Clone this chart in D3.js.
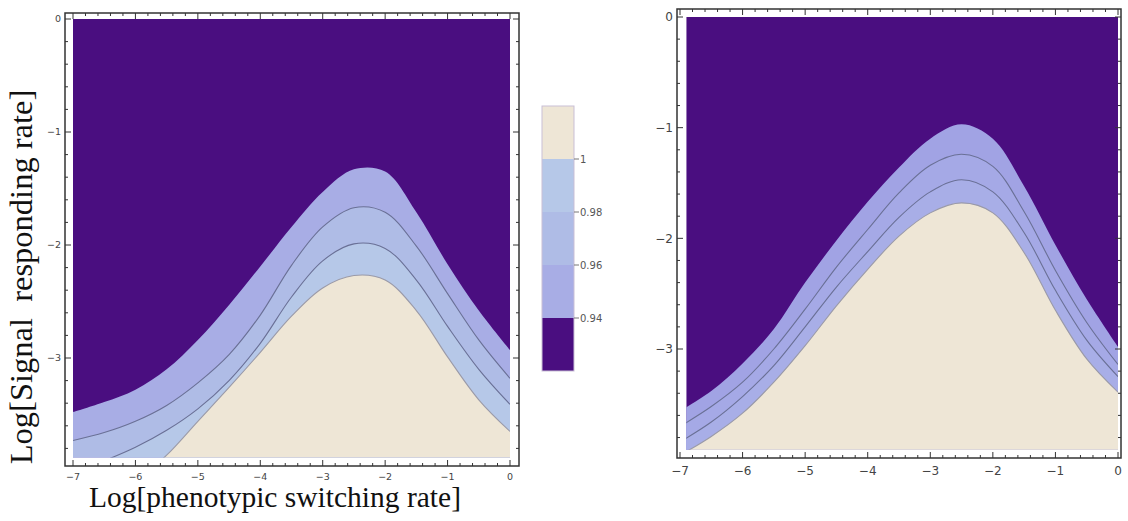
<!DOCTYPE html>
<html>
<head>
<meta charset="utf-8">
<script src="https://cdn.jsdelivr.net/npm/d3@7"></script>
<style>
  body { margin: 0; background: #fff; }
  svg { display: block; }
</style>
</head>
<body>
<svg id="chart" width="1128" height="521"></svg>
<script>
// x samples (Log[phenotypic switching rate]) shared by every contour
const xSamples = [-7, -6.5, -6, -5.5, -5, -4.5, -4, -3.5, -3, -2.5, -2, -1.5, -1, -0.5, 0];

// left panel: y position of the contour lines 0.94, 0.96, 0.98, 1
const left094 = [-3.48, -3.39, -3.28, -3.10, -2.84, -2.53, -2.19, -1.84, -1.53, -1.33, -1.35, -1.71, -2.17, -2.58, -2.93];
const left096 = [-3.73, -3.66, -3.56, -3.42, -3.22, -2.97, -2.62, -2.18, -1.84, -1.67, -1.71, -2.01, -2.43, -2.84, -3.18];
const left098 = [-4.02, -3.91, -3.79, -3.64, -3.45, -3.20, -2.87, -2.46, -2.14, -1.99, -2.03, -2.31, -2.72, -3.10, -3.41];
const left100 = [-4.60, -4.35, -4.10, -3.86, -3.56, -3.26, -2.95, -2.63, -2.38, -2.27, -2.31, -2.58, -2.99, -3.37, -3.65];

// right panel
const right094 = [-3.56, -3.38, -3.13, -2.82, -2.40, -2.02, -1.67, -1.36, -1.10, -0.97, -1.10, -1.53, -2.06, -2.55, -2.98];
const right096 = [-3.70, -3.52, -3.30, -3.00, -2.64, -2.26, -1.92, -1.59, -1.34, -1.24, -1.35, -1.76, -2.29, -2.76, -3.14];
const right098 = [-3.84, -3.66, -3.43, -3.15, -2.80, -2.44, -2.12, -1.81, -1.58, -1.47, -1.58, -1.95, -2.47, -2.92, -3.25];
const right100 = [-3.96, -3.79, -3.58, -3.30, -2.97, -2.61, -2.28, -1.98, -1.77, -1.68, -1.77, -2.13, -2.65, -3.09, -3.39];

const xTicks = [-7, -6, -5, -4, -3, -2, -1, 0];
const yTicks = [0, -1, -2, -3];
const legendTicks = [1, 0.98, 0.96, 0.94];
const legendLevels = [0.92, 0.94, 0.96, 0.98, 1, 1.02];

const dark = "#4a0e80", beige = "#eee6d6";

var svg = d3.select("#chart");

function drawPanel(p) {
  var x = d3.scaleLinear().domain([-7, 0]).range([p.x0, p.x1]);
  var y = d3.scaleLinear().domain([0, -3]).range([p.y0, p.y3]);

  var fx0 = x(p.xMin), fx1 = x(0), fy0 = y(0), fy1 = y(p.yMin);
  var g = svg.append("g");

  g.append("clipPath").attr("id", p.id)
    .append("rect").attr("x", fx0).attr("y", fy0).attr("width", fx1 - fx0).attr("height", fy1 - fy0);

  var plot = g.append("g").attr("clip-path", "url(#" + p.id + ")");
  plot.append("rect").attr("x", fx0).attr("y", fy0).attr("width", fx1 - fx0).attr("height", fy1 - fy0).attr("fill", dark);

  var curves = p.curves;
  curves.forEach(function(c, i) {
    var area = d3.area()
      .x(function(d, j) { return x(xSamples[j]); })
      .y0(fy1 + 40)
      .y1(function(d) { return y(d); })
      .curve(d3.curveCatmullRom);
    plot.append("path").datum(c).attr("d", area).attr("fill", p.fills[i]);
  });
  curves.forEach(function(c, i) {
    if (i == 0) return;
    var line = d3.line()
      .x(function(d, j) { return x(xSamples[j]); })
      .y(function(d) { return y(d); })
      .curve(d3.curveCatmullRom);
    plot.append("path").datum(c).attr("d", line).attr("fill", "none")
      .attr("stroke", i == 3 ? "#9a9aa8" : "#6a7096").attr("stroke-width", 1.1);
  });

  // frame
  var L = p.fl, R = p.fr, T = p.ft, B = p.fb;
  g.append("rect").attr("x", L).attr("y", T).attr("width", R - L).attr("height", B - T)
    .attr("fill", "none").attr("stroke", "#333").attr("stroke-width", 1.5);

  var minorX = d3.range(-7, 0.001, 0.2).filter(function(v) { return Math.abs(v - Math.round(v)) > 0.01; });
  var minorY = d3.range(0, -3.95, -0.2).filter(function(v) { return Math.abs(v - Math.round(v)) > 0.01; });

  var ticks = g.append("g").attr("stroke", "#333").attr("stroke-width", 1);
  [[B, -1], [T, 1]].forEach(function(e) {
    xTicks.forEach(function(v) {
      ticks.append("line").attr("x1", x(v)).attr("x2", x(v)).attr("y1", e[0]).attr("y2", e[0] + e[1] * 6);
    });
    minorX.forEach(function(v) {
      ticks.append("line").attr("x1", x(v)).attr("x2", x(v)).attr("y1", e[0]).attr("y2", e[0] + e[1] * 3);
    });
  });
  [[L, 1], [R, -1]].forEach(function(e) {
    yTicks.forEach(function(v) {
      ticks.append("line").attr("y1", y(v)).attr("y2", y(v)).attr("x1", e[0]).attr("x2", e[0] + e[1] * 6);
    });
    minorY.forEach(function(v) {
      ticks.append("line").attr("y1", y(v)).attr("y2", y(v)).attr("x1", e[0]).attr("x2", e[0] + e[1] * 3);
    });
  });

  var fmt = d3.format("d");
  g.append("g").selectAll("text").data(xTicks).enter().append("text")
    .attr("x", function(d) { return x(d); })
    .attr("y", B + p.labelGap)
    .attr("text-anchor", "middle")
    .attr("font-family", "DejaVu Sans")
    .attr("font-size", p.tickFont)
    .attr("fill", "#444")
    .text(fmt);
  g.append("g").selectAll("text").data(yTicks).enter().append("text")
    .attr("x", L - 4)
    .attr("y", function(d) { return y(d); })
    .attr("dy", "0.35em")
    .attr("text-anchor", "end")
    .attr("font-family", "DejaVu Sans")
    .attr("font-size", p.tickFont)
    .attr("fill", "#444")
    .text(fmt);
}

drawPanel({
  id: "clipL", x0: 73, x1: 510, y0: 19, y3: 358, xMin: -7, yMin: -3.88,
  fl: 65, fr: 519, ft: 13, fb: 466, labelGap: 14, tickFont: 9.5,
  curves: [left094, left096, left098, left100],
  fills: ["#a8ade5", "#afbce6", "#b6c8e8", beige]
});

drawPanel({
  id: "clipR", x0: 680, x1: 1118, y0: 17, y3: 349, xMin: -6.9, yMin: -3.91,
  fl: 677, fr: 1121, ft: 9, fb: 458, labelGap: 17, tickFont: 12,
  curves: [right094, right096, right098, right100],
  fills: ["#a1a3e4", "#a5a9e6", "#a8aee7", beige]
});

// axis titles (left panel)
svg.append("text")
  .attr("transform", "translate(32,277) rotate(-90)")
  .attr("text-anchor", "middle")
  .attr("font-family", "Liberation Serif")
  .attr("font-size", 32.5)
  .attr("fill", "#111")
  .attr("xml:space", "preserve")
  .text("Log[Signal  responding rate]");

svg.append("text")
  .attr("x", 275)
  .attr("y", 507)
  .attr("text-anchor", "middle")
  .attr("font-family", "Liberation Serif")
  .attr("font-size", 29.5)
  .attr("fill", "#111")
  .text("Log[phenotypic switching rate]");

// colour legend
var ly = d3.scaleLinear().domain([0.92, 1.02]).range([371, 106]);
var legendColors = [dark, "#a8ade5", "#afbce6", "#b6c8e8", beige];
var leg = svg.append("g");
legendColors.forEach(function(c, i) {
  leg.append("rect")
    .attr("x", 542).attr("width", 32)
    .attr("y", ly(legendLevels[i + 1]))
    .attr("height", ly(legendLevels[i]) - ly(legendLevels[i + 1]))
    .attr("fill", c);
});
leg.append("rect").attr("x", 542).attr("y", 106).attr("width", 32).attr("height", 265)
  .attr("fill", "none").attr("stroke", "#c9bfd6").attr("stroke-width", 1);
legendTicks.forEach(function(v) {
  leg.append("line").attr("x1", 574).attr("x2", 579).attr("y1", ly(v)).attr("y2", ly(v))
    .attr("stroke", "#777");
  leg.append("text").attr("x", 580).attr("y", ly(v)).attr("dy", "0.35em")
    .attr("font-family", "DejaVu Sans").attr("font-size", 10).attr("fill", "#555")
    .text(v);
});
</script>
</body>
</html>
